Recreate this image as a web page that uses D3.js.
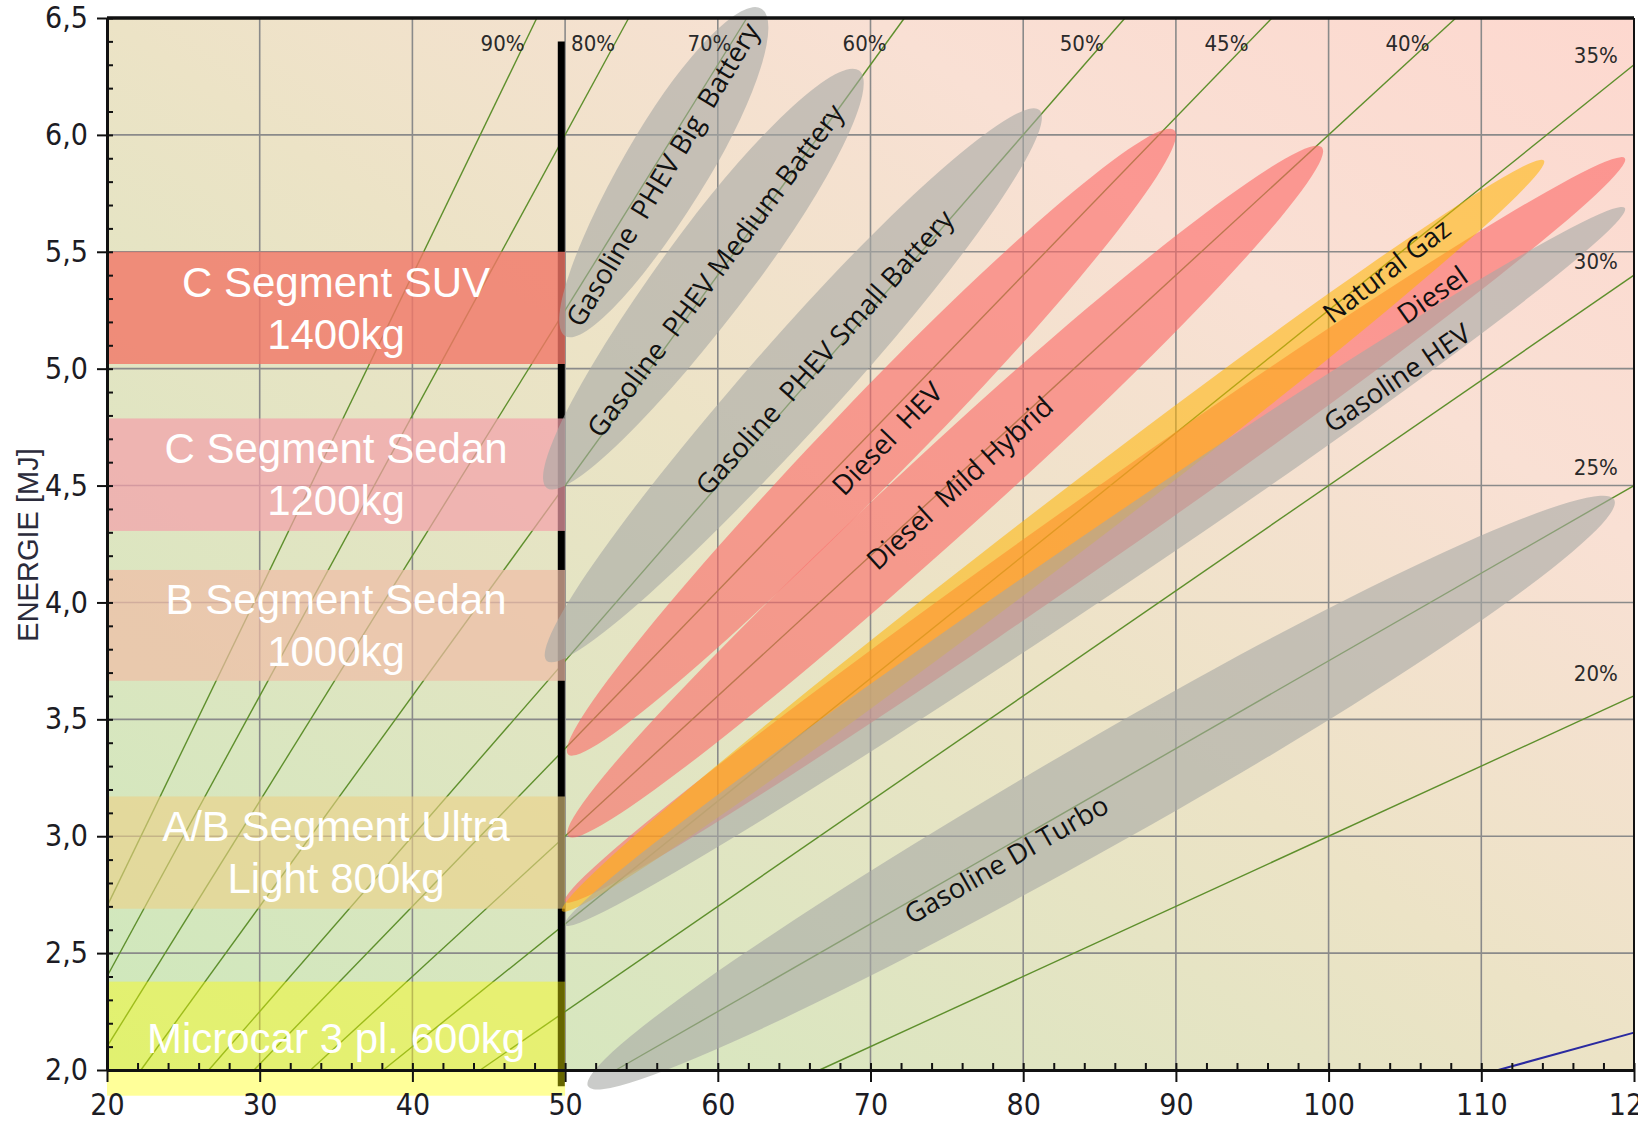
<!DOCTYPE html>
<html>
<head>
<meta charset="utf-8">
<script src="https://cdn.jsdelivr.net/npm/d3@7"></script>
<style>
  body { margin: 0; background: #fff; }
  svg { display: block; }
</style>
</head>
<body>
<svg id="chart" width="1638" height="1124"></svg>
<script>
// efficiency iso-lines : energy = 0.15 * efficiency * speed
var efficiencies = [90, 80, 70, 60, 50, 45, 40, 35, 30, 25, 20];
var blueLineEfficiency = 12;

var speedTicks = [20, 30, 40, 50, 60, 70, 80, 90, 100, 110, 120];
var energyTicks = [2.0, 2.5, 3.0, 3.5, 4.0, 4.5, 5.0, 5.5, 6.0, 6.5];

// vehicle segments (left bands)
var segmentNames = [
  ["C Segment SUV", "1400kg"],
  ["C Segment Sedan", "1200kg"],
  ["B Segment Sedan", "1000kg"],
  ["A/B Segment Ultra", "Light 800kg"],
  ["Microcar 3 pl. 600kg"]
];
var segmentLow = [5.02, 4.306, 3.665, 2.69, 1.89];
var segmentHigh = [5.50, 4.787, 4.139, 3.17, 2.378];

// powertrain areas: low end -> high end
var techNames = [
  "Gasoline  PHEV Big  Battery",
  "Gasoline  PHEV Medium Battery",
  "Gasoline  PHEV Small Battery",
  "Diesel  HEV",
  "Diesel  Mild Hybrid",
  "Diesel",
  "Natural Gaz",
  "Gasoline HEV",
  "Gasoline DI Turbo"
];
var techSpeedLow   = [50.0, 48.8, 48.8, 50.2, 50.2, 50.0, 49.8, 50.0, 51.5];
var techEnergyLow  = [5.14, 4.49, 3.75, 3.35, 3.00, 2.72, 2.68, 2.62, 1.93];
var techSpeedHigh  = [62.85, 69.26, 81.06, 89.9, 99.56, 119.4, 114.1, 119.4, 118.7];
var techEnergyHigh = [6.54, 6.275, 6.106, 6.02, 5.947, 5.90, 5.89, 5.687, 4.44];
var techLabelSpeed  = [56.4, 59.85, 67.0, 71.1, 75.85, 106.8, 103.8, 104.5, 78.9];
var techLabelEnergy = [5.83, 5.42, 5.07, 4.70, 4.51, 5.315, 5.418, 4.96, 2.90];

// ---- styles
var segmentFill = ["#f17666", "#f49fa9", "#efbca5", "#edd185", "#ffff00"];
var segmentOpacity = [0.8, 0.7, 0.7, 0.6, 0.4];
var techFill = ["#a7a8a5", "#a7a8a5", "#a7a8a5", "#fc6765", "#fc6765", "#fc6765", "#ffb400", "#a7a8a5", "#a7a8a5"];
var techOpacity = [0.6, 0.6, 0.6, 0.6, 0.6, 0.6, 0.55, 0.6, 0.6];
var techWidth = [84, 90, 90, 84, 86, 68, 60, 64, 105];

var narrow = "'Liberation Sans Narrow', 'DejaVu Sans Condensed', 'Arial Narrow', sans-serif";

var margin = {top: 18, right: 4, bottom: 54, left: 107};
var svg = d3.select("#chart");
var W = +svg.attr("width"), H = +svg.attr("height");
var plotWidth = W - margin.left - margin.right;
var plotHeight = H - margin.top - margin.bottom;

var x = d3.scaleLinear().domain([20, 120]).range([0, plotWidth]);
var y = d3.scaleLinear().domain([2.0, 6.5]).range([plotHeight, 0]);

var defs = svg.append("defs");
var grad = defs.append("linearGradient").attr("id", "bg")
  .attr("x1", 0).attr("y1", 1).attr("x2", 1).attr("y2", 0);
grad.append("stop").attr("offset", 0).attr("stop-color", "#cde8bb");
grad.append("stop").attr("offset", 0.5).attr("stop-color", "#ece3c6");
grad.append("stop").attr("offset", 0.75).attr("stop-color", "#f9e0d4");
grad.append("stop").attr("offset", 1).attr("stop-color", "#fdd8cf");

var plot = svg.append("g").attr("transform", "translate(" + margin.left + "," + margin.top + ")");

plot.append("rect")
  .attr("width", plotWidth).attr("height", plotHeight)
  .attr("fill", "url(#bg)");

// grid
plot.append("g").selectAll("line").data(speedTicks.slice(1, -1)).enter()
  .append("line")
  .attr("x1", function(d) { return x(d); }).attr("x2", function(d) { return x(d); })
  .attr("y1", 0).attr("y2", plotHeight)
  .attr("stroke", "#8a8a8a").attr("stroke-width", 1.6);
plot.append("g").selectAll("line").data(energyTicks.slice(1, -1)).enter()
  .append("line")
  .attr("y1", function(d) { return y(d); }).attr("y2", function(d) { return y(d); })
  .attr("x1", 0).attr("x2", plotWidth)
  .attr("stroke", "#8a8a8a").attr("stroke-width", 1.6);

// efficiency lines
function effSegment(eff) {
  var k = 0.15 * eff / 100;
  var v0 = Math.max(20, 2.0 / k), v1 = Math.min(120, 6.5 / k);
  return [[v0, k * v0], [v1, k * v1]];
}
var line = d3.line().x(function(d) { return x(d[0]); }).y(function(d) { return y(d[1]); });

plot.append("g").selectAll("path").data(efficiencies).enter()
  .append("path")
  .attr("d", function(d) { return line(effSegment(d)); })
  .attr("fill", "none")
  .attr("stroke", "#5e8f2c").attr("stroke-width", 1.4);

plot.append("path")
  .attr("d", line(effSegment(blueLineEfficiency)))
  .attr("fill", "none").attr("stroke", "#2a2aa0").attr("stroke-width", 2);

// vertical black bar at 50
plot.append("line")
  .attr("x1", x(49.75)).attr("x2", x(49.75))
  .attr("y1", y(6.40)).attr("y2", y(1.93))
  .attr("stroke", "#000").attr("stroke-width", 7);

// segment bands
var seg = plot.append("g").selectAll("g").data(segmentNames).enter().append("g");
seg.append("rect")
  .attr("x", x(20))
  .attr("width", x(50) - x(20))
  .attr("y", function(d, i) { return y(segmentHigh[i]); })
  .attr("height", function(d, i) { return y(segmentLow[i]) - y(segmentHigh[i]); })
  .attr("fill", function(d, i) { return segmentFill[i]; })
  .attr("fill-opacity", function(d, i) { return segmentOpacity[i]; });
seg.each(function(d, i) {
  var cy = (y(segmentHigh[i]) + y(segmentLow[i])) / 2;
  var t = d3.select(this).append("text")
    .attr("x", x(35))
    .attr("text-anchor", "middle")
    .attr("font-family", "'Liberation Sans', Arial, sans-serif")
    .attr("font-size", 42)
    .attr("fill", "#fff");
  d.forEach(function(s, j) {
    t.append("tspan")
      .attr("x", x(35))
      .attr("y", cy + (j - (d.length - 1) / 2) * 52)
      .attr("dy", "0.35em")
      .text(s);
  });
});

// powertrain shapes (egg shaped ellipses)
var eggC = 0.55;
function eggPath(L, w) {
  var a = eggC * L, b = (1 - eggC) * L, h = w / 2;
  return "M0,0" +
    "A" + a + "," + h + " 0 0 1 " + a + "," + (-h) +
    "A" + b + "," + h + " 0 0 1 " + L + ",0" +
    "A" + b + "," + h + " 0 0 1 " + a + "," + h +
    "A" + a + "," + h + " 0 0 1 0,0Z";
}
var tech = plot.append("g").selectAll("g").data(techNames).enter().append("g");
tech.each(function(name, i) {
  var x0 = x(techSpeedLow[i]), y0 = y(techEnergyLow[i]);
  var x1 = x(techSpeedHigh[i]), y1 = y(techEnergyHigh[i]);
  var L = Math.hypot(x1 - x0, y1 - y0);
  var ang = Math.atan2(y1 - y0, x1 - x0) * 180 / Math.PI;
  d3.select(this).append("path")
    .attr("d", eggPath(L, techWidth[i]))
    .attr("transform", "translate(" + x0 + "," + y0 + ") rotate(" + ang + ")")
    .attr("fill", techFill[i])
    .attr("fill-opacity", techOpacity[i]);
});
tech.each(function(name, i) {
  var x0 = x(techSpeedLow[i]), y0 = y(techEnergyLow[i]);
  var x1 = x(techSpeedHigh[i]), y1 = y(techEnergyHigh[i]);
  var ang = Math.atan2(y1 - y0, x1 - x0) * 180 / Math.PI;
  var lx = x(techLabelSpeed[i]), ly = y(techLabelEnergy[i]);
  d3.select(this).append("text")
    .attr("transform", "translate(" + lx + "," + ly + ") rotate(" + ang + ")")
    .attr("text-anchor", "middle")
    .attr("dy", "0.35em")
    .attr("font-family", "'Open Sans', sans-serif")
    .attr("font-size", 27.5)
    .attr("fill", "#111")
    .attr("xml:space", "preserve")
    .style("white-space", "pre")
    .text(name);
});

// efficiency labels
plot.append("g").selectAll("text").data(efficiencies).enter()
  .append("text")
  .attr("x", function(d) {
    var k = 0.15 * d / 100;
    return 6.5 / k <= 120 ? x(6.4 / k - 1.5) : x(117.5);
  })
  .attr("y", function(d) {
    var k = 0.15 * d / 100;
    return 6.5 / k <= 120 ? y(6.39) : y(k * 117.5 + 0.17);
  })
  .attr("dy", "0.35em")
  .attr("text-anchor", "middle")
  .attr("font-family", narrow)
  .attr("font-size", 22)
  .attr("fill", "#2a2a2a")
  .text(function(d) { return d + "%"; });

// axes
var fmt = function(d) { return d3.format(".1f")(d).replace(".", ","); };
var yAxis = plot.append("g")
  .call(d3.axisLeft(y).tickValues(energyTicks).tickFormat(fmt).tickSize(10).tickPadding(9).tickSizeOuter(0));
var yMinor = plot.append("g")
  .call(d3.axisLeft(y).tickValues(d3.range(20, 66).map(function(v) { return v / 10; })).tickFormat("").tickSize(-6).tickSizeOuter(0));
var xAxis = plot.append("g").attr("transform", "translate(0," + plotHeight + ")")
  .call(d3.axisBottom(x).tickValues(speedTicks).tickFormat(d3.format("d")).tickSize(12).tickPadding(12).tickSizeOuter(0));
var xMinor = plot.append("g").attr("transform", "translate(0," + plotHeight + ")")
  .call(d3.axisBottom(x).tickValues(d3.range(20, 121, 2)).tickFormat("").tickSize(-7).tickSizeOuter(0));

[yAxis, xAxis, yMinor, xMinor].forEach(function(a) {
  a.selectAll("line").attr("stroke", "#111").attr("stroke-width", 2);
  a.select(".domain").attr("stroke", "#111").attr("stroke-width", 3);
  a.selectAll("text").attr("font-family", narrow).attr("font-size", 30).attr("fill", "#1c1c24");
});

// frame top and right
plot.append("line").attr("x1", 0).attr("x2", plotWidth).attr("y1", 0).attr("y2", 0)
  .attr("stroke", "#111").attr("stroke-width", 3.5);
plot.append("line").attr("x1", plotWidth).attr("x2", plotWidth).attr("y1", 0).attr("y2", plotHeight)
  .attr("stroke", "#111").attr("stroke-width", 2);

// y title
svg.append("text")
  .attr("transform", "translate(28,545) rotate(-90)")
  .attr("text-anchor", "middle")
  .attr("dy", "0.35em")
  .attr("font-family", "'Liberation Sans', Arial, sans-serif")
  .attr("font-size", 29)
  .attr("fill", "#2b2b3b")
  .text("ENERGIE [MJ]");
</script>
</body>
</html>
